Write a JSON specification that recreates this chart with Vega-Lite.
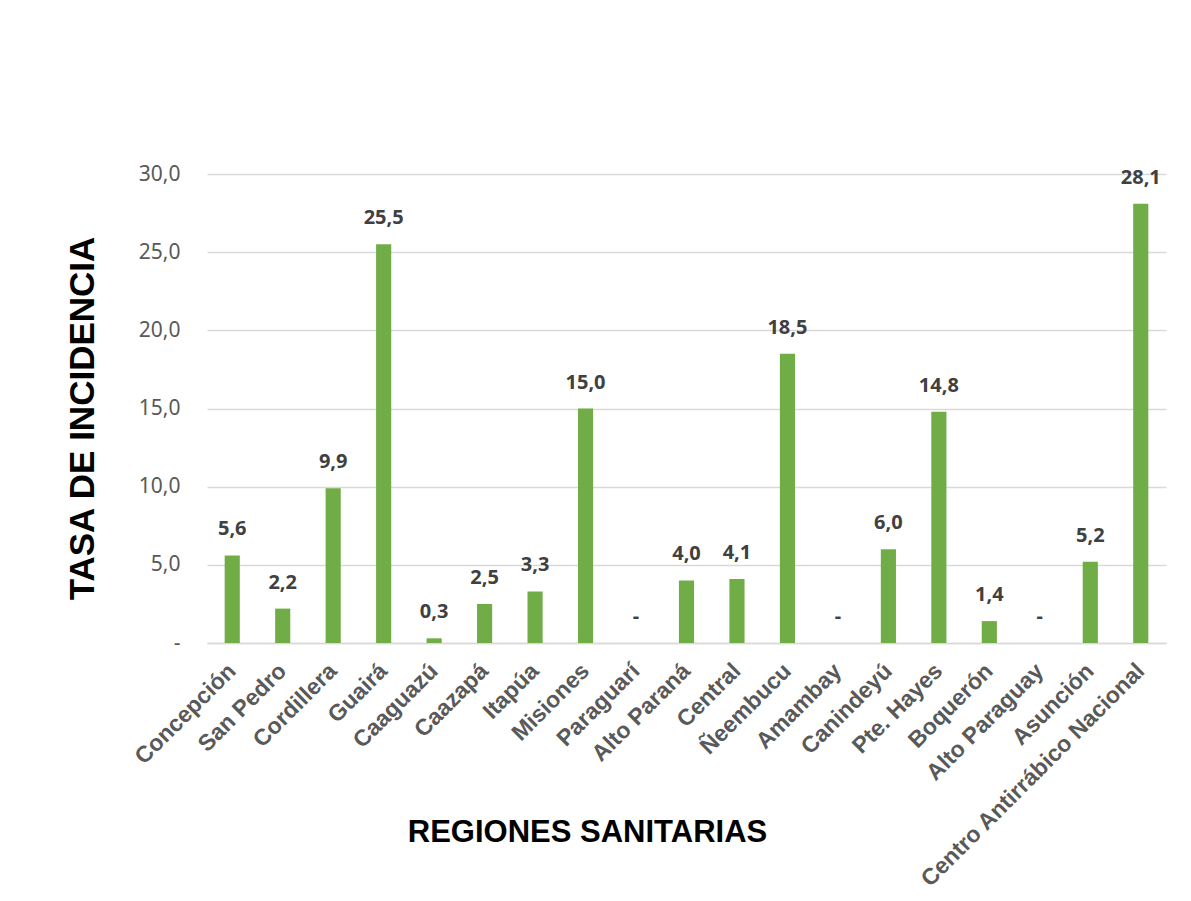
{
  "$schema": "https://vega.github.io/schema/vega-lite/v6.json",
  "width": 959,
  "height": 469,
  "autosize": {"type": "none"},
  "padding": {"left": 207, "top": 174, "right": 25, "bottom": 258},
  "background": "white",
  "config": {
    "view": {"stroke": null},
    "locale": {"number": {"decimal": ",", "thousands": ".", "grouping": [3], "currency": ["", ""]}}
  },
  "data": {
    "values": [
      {"region": "Concepción", "tasa": 5.6},
      {"region": "San Pedro", "tasa": 2.2},
      {"region": "Cordillera", "tasa": 9.9},
      {"region": "Guairá", "tasa": 25.5},
      {"region": "Caaguazú", "tasa": 0.3},
      {"region": "Caazapá", "tasa": 2.5},
      {"region": "Itapúa", "tasa": 3.3},
      {"region": "Misiones", "tasa": 15.0},
      {"region": "Paraguarí", "tasa": 0},
      {"region": "Alto Paraná", "tasa": 4.0},
      {"region": "Central", "tasa": 4.1},
      {"region": "Ñeembucu", "tasa": 18.5},
      {"region": "Amambay", "tasa": 0},
      {"region": "Canindeyú", "tasa": 6.0},
      {"region": "Pte. Hayes", "tasa": 14.8},
      {"region": "Boquerón", "tasa": 1.4},
      {"region": "Alto Paraguay", "tasa": 0},
      {"region": "Asunción", "tasa": 5.2},
      {"region": "Centro Antirrábico Nacional", "tasa": 28.1}
    ]
  },
  "encoding": {
    "x": {
      "field": "region",
      "type": "nominal",
      "sort": null,
      "scale": {"paddingInner": 0.7, "paddingOuter": 0.35},
      "axis": {
        "title": "REGIONES SANITARIAS",
        "titleFont": "Liberation Sans",
        "titleFontSize": 31,
        "titleFontWeight": "bold",
        "titleColor": "#000000",
        "titleX": 380,
        "titleY": 189,
        "titleAlign": "center",
        "titleBaseline": "middle",
        "labelAngle": -45,
        "labelAlign": "right",
        "labelBaseline": "middle",
        "labelFont": "Liberation Sans",
        "labelFontSize": 23,
        "labelFontWeight": "bold",
        "labelColor": "#595959",
        "labelPadding": 24,
        "labelOverlap": false,
        "labelLimit": 500,
        "ticks": false,
        "domain": true,
        "domainColor": "#D9D9D9",
        "domainWidth": 1.5
      }
    },
    "y": {
      "field": "tasa",
      "type": "quantitative",
      "scale": {"domain": [0, 30], "nice": false},
      "axis": {
        "values": [0, 5, 10, 15, 20, 25, 30],
        "format": ".1f",
        "labelExpr": "datum.value == 0 ? '-' : datum.label",
        "labelFont": "Noto Sans",
        "labelFontSize": 21,
        "labelColor": "#595959",
        "labelPadding": 27,
        "ticks": false,
        "domain": false,
        "grid": true,
        "gridColor": "#D9D9D9",
        "gridWidth": 1.5,
        "title": "TASA DE INCIDENCIA",
        "titleFont": "Liberation Sans",
        "titleFontSize": 35,
        "titleFontWeight": "bold",
        "titleColor": "#000000",
        "titleAngle": -90,
        "titleAlign": "center",
        "titleBaseline": "middle",
        "titleX": -125,
        "titleY": 244
      }
    }
  },
  "layer": [
    {
      "mark": {"type": "bar", "color": "#70AD47"}
    },
    {
      "mark": {"type": "text", "font": "Noto Sans", "fontSize": 20, "fontWeight": "bold", "color": "#404040", "baseline": "middle", "dy": -26},
      "encoding": {
        "text": {"condition": {"test": "datum.tasa == 0", "value": "-"}, "field": "tasa", "type": "quantitative", "format": ".1f"}
      }
    }
  ]
}
